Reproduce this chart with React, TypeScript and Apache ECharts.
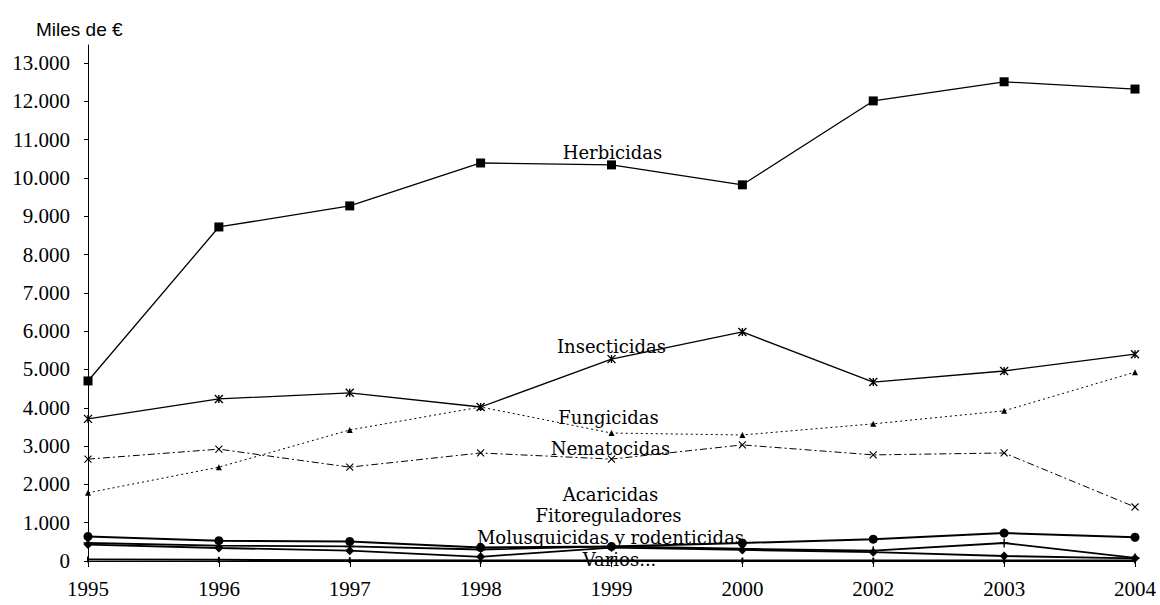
import React, { useEffect, useRef } from "react";
import * as echarts from "echarts";

const years = ["1995", "1996", "1997", "1998", "1999", "2000", "2002", "2003", "2004"];
const yTickValues = [0, 1000, 2000, 3000, 4000, 5000, 6000, 7000, 8000, 9000, 10000, 11000, 12000, 13000];

const herbicidas = [4700, 8720, 9270, 10390, 10340, 9820, 12010, 12510, 12320];
const insecticidas = [3710, 4230, 4390, 4020, 5270, 5980, 4670, 4960, 5400];
const fungicidas = [1780, 2450, 3420, 4020, 3340, 3290, 3580, 3920, 4930];
const nematocidas = [2660, 2920, 2450, 2820, 2660, 3030, 2770, 2820, 1410];
const acaricidas = [640, 530, 510, 350, 380, 470, 570, 730, 620];
const fitoreguladores = [470, 400, 380, 300, 380, 320, 270, 470, 80];
const molusquicidas = [430, 340, 270, 110, 350, 290, 230, 130, 70];
const varios = [40, 30, 20, 10, 10, 10, 10, 10, 10];

const LABEL_INDEX = 4;

const fmt = (v: number) => (v === 0 ? "0" : String(v).replace(/\B(?=(\d{3})+(?!\d))/g, "."));

const STROKE = { color: "#000", borderColor: "#000", borderWidth: 1.4 };

function mk(
  name: string,
  values: number[],
  symbol: string,
  symbolSize: number | number[],
  line: any,
  offset: number[],
  itemStyle: any = { color: "#000" }
) {
  return {
    type: "line",
    name,
    symbol,
    symbolSize,
    showAllSymbol: true,
    itemStyle,
    lineStyle: { color: "#000", ...line },
    emphasis: { disabled: true },
    data: values.map((v, i) =>
      i === LABEL_INDEX
        ? {
            value: v,
            label: {
              show: true,
              position: "inside",
              offset,
              formatter: name,
              color: "#000",
              fontFamily: "DejaVu Serif",
              fontSize: 18,
              lineHeight: 18,
              align: "center",
              verticalAlign: "middle",
            },
          }
        : v
    ),
  };
}

export default function App() {
  const ref = useRef<HTMLDivElement>(null);
  useEffect(() => {
    const chart = echarts.init(ref.current!, null, { renderer: "svg" });
    chart.setOption({
      animation: false,
      backgroundColor: "#fff",
      title: {
        text: "Miles de €",
        left: 31,
        top: 15,
        textStyle: { fontFamily: "Liberation Sans", fontSize: 19, fontWeight: "normal", color: "#000" },
      },
      grid: { left: 88, right: 25, top: 45, bottom: 44, containLabel: false },
      xAxis: {
        type: "category",
        data: years,
        boundaryGap: false,
        axisLine: { lineStyle: { color: "#000", width: 1 } },
        axisTick: { show: true, alignWithLabel: true, length: 6, lineStyle: { color: "#000" } },
        axisLabel: { color: "#000", fontFamily: "Liberation Serif", fontSize: 21, margin: 17 },
        splitLine: { show: false },
      },
      yAxis: {
        type: "value",
        min: 0,
        max: 13470,
        interval: 1000,
        axisLine: { show: true, lineStyle: { color: "#000", width: 1 } },
        axisTick: { show: true, length: 4, lineStyle: { color: "#000" } },
        axisLabel: {
          color: "#000",
          fontFamily: "Liberation Serif",
          fontSize: 21,
          margin: 18,
          showMaxLabel: false,
          formatter: (v: number) => (yTickValues.includes(v) ? fmt(v) : ""),
        },
        splitLine: { show: false },
      },
      series: [
        mk("Herbicidas", herbicidas, "rect", 9, { width: 1.3 }, [1, -12]),
        mk("Insecticidas", insecticidas, "path://M0,0L10,10M10,0L0,10M5,0L5,10", 8, { width: 1.3 }, [0, -13], STROKE),
        mk("Fungicidas", fungicidas, "triangle", 6, { width: 1, type: [2, 3] }, [-3, -16]),
        mk("Nematocidas", nematocidas, "path://M0,0L10,10M10,0L0,10", 7, { width: 1, type: [7, 3, 2, 3] }, [-1, -11], { ...STROKE, borderWidth: 1.1 }),
        mk("Acaricidas", acaricidas, "circle", 9, { width: 2 }, [-1, -52]),
        mk("Fitoreguladores", fitoreguladores, "path://M5,0L5,10M0,5L10,5", 9, { width: 1.8 }, [-3, -31]),
        mk("Molusquicidas y rodenticidas", molusquicidas, "diamond", 9, { width: 1.8 }, [-1, -10]),
        mk("Varios...", varios, "rect", [2, 6], { width: 2 }, [8, -1]),
      ].map((s: any) =>
        s.name === "Fitoreguladores" ? { ...s, itemStyle: STROKE } : s
      ),
    });
    return () => chart.dispose();
  }, []);
  return (
    <div
      ref={ref}
      style={{ position: "fixed", left: 0, top: 0, width: 1160, height: 605, background: "#fff" }}
    />
  );
}
